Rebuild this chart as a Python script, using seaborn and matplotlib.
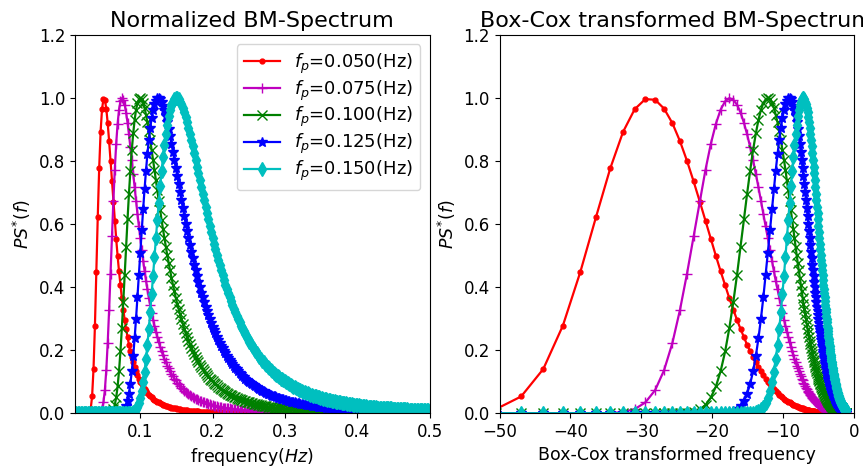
import matplotlib
matplotlib.use("Agg")
import matplotlib.pyplot as plt
import seaborn as sns

# frequency grid (Hz)
freq = [
    0.01000, 0.01196, 0.01392, 0.01588, 0.01784, 0.01980, 0.02176, 0.02372, 0.02568, 0.02764,
    0.02960, 0.03156, 0.03352, 0.03548, 0.03744, 0.03940, 0.04136, 0.04332, 0.04528, 0.04724,
    0.04920, 0.05116, 0.05312, 0.05508, 0.05704, 0.05900, 0.06096, 0.06292, 0.06488, 0.06684,
    0.06880, 0.07076, 0.07272, 0.07468, 0.07664, 0.07860, 0.08056, 0.08252, 0.08448, 0.08644,
    0.08840, 0.09036, 0.09232, 0.09428, 0.09624, 0.09820, 0.10016, 0.10212, 0.10408, 0.10604,
    0.10800, 0.10996, 0.11192, 0.11388, 0.11584, 0.11780, 0.11976, 0.12172, 0.12368, 0.12564,
    0.12760, 0.12956, 0.13152, 0.13348, 0.13544, 0.13740, 0.13936, 0.14132, 0.14328, 0.14524,
    0.14720, 0.14916, 0.15112, 0.15308, 0.15504, 0.15700, 0.15896, 0.16092, 0.16288, 0.16484,
    0.16680, 0.16876, 0.17072, 0.17268, 0.17464, 0.17660, 0.17856, 0.18052, 0.18248, 0.18444,
    0.18640, 0.18836, 0.19032, 0.19228, 0.19424, 0.19620, 0.19816, 0.20012, 0.20208, 0.20404,
    0.20600, 0.20796, 0.20992, 0.21188, 0.21384, 0.21580, 0.21776, 0.21972, 0.22168, 0.22364,
    0.22560, 0.22756, 0.22952, 0.23148, 0.23344, 0.23540, 0.23736, 0.23932, 0.24128, 0.24324,
    0.24520, 0.24716, 0.24912, 0.25108, 0.25304, 0.25500, 0.25696, 0.25892, 0.26088, 0.26284,
    0.26480, 0.26676, 0.26872, 0.27068, 0.27264, 0.27460, 0.27656, 0.27852, 0.28048, 0.28244,
    0.28440, 0.28636, 0.28832, 0.29028, 0.29224, 0.29420, 0.29616, 0.29812, 0.30008, 0.30204,
    0.30400, 0.30596, 0.30792, 0.30988, 0.31184, 0.31380, 0.31576, 0.31772, 0.31968, 0.32164,
    0.32360, 0.32556, 0.32752, 0.32948, 0.33144, 0.33340, 0.33536, 0.33732, 0.33928, 0.34124,
    0.34320, 0.34516, 0.34712, 0.34908, 0.35104, 0.35300, 0.35496, 0.35692, 0.35888, 0.36084,
    0.36280, 0.36476, 0.36672, 0.36868, 0.37064, 0.37260, 0.37456, 0.37652, 0.37848, 0.38044,
    0.38240, 0.38436, 0.38632, 0.38828, 0.39024, 0.39220, 0.39416, 0.39612, 0.39808, 0.40004,
    0.40200, 0.40396, 0.40592, 0.40788, 0.40984, 0.41180, 0.41376, 0.41572, 0.41768, 0.41964,
    0.42160, 0.42356, 0.42552, 0.42748, 0.42944, 0.43140, 0.43336, 0.43532, 0.43728, 0.43924,
    0.44120, 0.44316, 0.44512, 0.44708, 0.44904, 0.45100, 0.45296, 0.45492, 0.45688, 0.45884,
    0.46080, 0.46276, 0.46472, 0.46668, 0.46864, 0.47060, 0.47256, 0.47452, 0.47648, 0.47844,
    0.48040, 0.48236, 0.48432, 0.48628, 0.48824, 0.49020, 0.49216, 0.49412, 0.49608, 0.49804,
    0.50000,
]

# Box-Cox transformed frequency (same points as freq)
bc_freq = [
    -200.7, -162.1, -135.6, -115.4, -100.4, -88.58, -79.08, -71.28, -64.78, -59.28,
    -54.57, -50.50, -46.95, -43.83, -41.06, -38.59, -36.37, -34.38, -32.57, -30.93,
    -29.43, -28.05, -26.79, -25.62, -24.55, -23.55, -22.62, -21.75, -20.94, -20.18,
    -19.47, -18.80, -18.17, -17.58, -17.02, -16.49, -15.99, -15.52, -15.07, -14.64,
    -14.23, -13.84, -13.47, -13.12, -12.78, -12.46, -12.15, -11.85, -11.57, -11.30,
    -11.04, -10.78, -10.54, -10.31, -10.09, -9.87, -9.66, -9.46, -9.27, -9.08,
    -8.90, -8.72, -8.55, -8.39, -8.23, -8.08, -7.93, -7.78, -7.64, -7.51,
    -7.38, -7.25, -7.12, -7.00, -6.88, -6.77, -6.66, -6.55, -6.44, -6.34,
    -6.24, -6.14, -6.05, -5.95, -5.86, -5.77, -5.69, -5.61, -5.52, -5.44,
    -5.36, -5.29, -5.21, -5.14, -5.07, -5.00, -4.93, -4.86, -4.79, -4.73,
    -4.67, -4.61, -4.55, -4.49, -4.43, -4.37, -4.32, -4.26, -4.21, -4.15,
    -4.10, -4.05, -4.00, -3.95, -3.91, -3.86, -3.81, -3.77, -3.72, -3.68,
    -3.64, -3.59, -3.55, -3.51, -3.47, -3.43, -3.39, -3.36, -3.32, -3.28,
    -3.24, -3.21, -3.17, -3.14, -3.11, -3.07, -3.04, -3.01, -2.97, -2.94,
    -2.91, -2.88, -2.85, -2.82, -2.79, -2.76, -2.74, -2.71, -2.68, -2.65,
    -2.63, -2.60, -2.57, -2.55, -2.52, -2.50, -2.47, -2.45, -2.42, -2.40,
    -2.38, -2.35, -2.33, -2.31, -2.29, -2.27, -2.24, -2.22, -2.20, -2.18,
    -2.16, -2.14, -2.12, -2.10, -2.08, -2.06, -2.04, -2.02, -2.00, -1.99,
    -1.97, -1.95, -1.93, -1.91, -1.90, -1.88, -1.86, -1.85, -1.83, -1.81,
    -1.80, -1.78, -1.77, -1.75, -1.73, -1.72, -1.70, -1.69, -1.67, -1.66,
    -1.645, -1.631, -1.617, -1.603, -1.589, -1.575, -1.561, -1.548, -1.535, -1.521,
    -1.508, -1.495, -1.483, -1.470, -1.458, -1.445, -1.433, -1.421, -1.409, -1.397,
    -1.385, -1.373, -1.361, -1.350, -1.339, -1.327, -1.316, -1.305, -1.294, -1.283,
    -1.273, -1.262, -1.251, -1.241, -1.231, -1.220, -1.210, -1.200, -1.190, -1.180,
    -1.170, -1.161, -1.151, -1.142, -1.132, -1.123, -1.113, -1.104, -1.095, -1.086,
    -1.077,
]

# normalized spectra PS*(f), fp = 0.050 Hz
ps_050 = [
    0, 0, 0, 0, 0, 0, 0, 0, 0, 0,
    0.002, 0.013, 0.053, 0.140, 0.278, 0.449, 0.624, 0.777, 0.893, 0.965,
    0.997, 0.995, 0.967, 0.921, 0.864, 0.801, 0.736, 0.672, 0.611, 0.553,
    0.499, 0.450, 0.406, 0.365, 0.329, 0.296, 0.267, 0.241, 0.217, 0.196,
    0.178, 0.161, 0.146, 0.133, 0.121, 0.110, 0.100, 0.092, 0.084, 0.077,
    0.070, 0.064, 0.059, 0.054, 0.050, 0.046, 0.042, 0.039, 0.036, 0.034,
    0.031, 0.029, 0.027, 0.025, 0.023, 0.022, 0.020, 0.019, 0.018, 0.017,
    0.016, 0.015, 0.014, 0.013, 0.012, 0.011, 0.011, 0.010, 0.010, 0.009,
    0.008, 0.008, 0.007, 0.007, 0.007, 0.006, 0.006, 0.006, 0.005, 0.005,
    0.005, 0.005, 0.004, 0.004, 0.004, 0.004, 0.004, 0.003, 0.003, 0.003,
    0.003, 0.003, 0.003, 0.003, 0.002, 0.002, 0.002, 0.002, 0.002, 0.002,
    0.002, 0.002, 0.002, 0.002, 0.002, 0.002, 0.001, 0.001, 0.001, 0.001,
    0.001, 0.001, 0.001, 0.001, 0.001, 0.001, 0.001, 0.001, 0.001, 0.001,
    0.001, 0.001, 0.001, 0.001, 0.001, 0.001, 0.001, 0.001, 0.001, 0.001,
    0.001, 0.001, 0.001, 0.001, 0.001, 0, 0, 0, 0, 0,
    0, 0, 0, 0, 0, 0, 0, 0, 0, 0,
    0, 0, 0, 0, 0, 0, 0, 0, 0, 0,
    0, 0, 0, 0, 0, 0, 0, 0, 0, 0,
    0, 0, 0, 0, 0, 0, 0, 0, 0, 0,
    0, 0, 0, 0, 0, 0, 0, 0, 0, 0,
    0, 0, 0, 0, 0, 0, 0, 0, 0, 0,
    0, 0, 0, 0, 0, 0, 0, 0, 0, 0,
    0, 0, 0, 0, 0, 0, 0, 0, 0, 0,
    0, 0, 0, 0, 0, 0, 0, 0, 0, 0,
    0, 0, 0, 0, 0, 0, 0, 0, 0, 0,
    0,
]

# fp = 0.075 Hz
ps_075 = [
    0, 0, 0, 0, 0, 0, 0, 0, 0, 0,
    0, 0, 0, 0, 0, 0, 0, 0, 0.004, 0.013,
    0.034, 0.073, 0.136, 0.222, 0.327, 0.443, 0.561, 0.673, 0.773, 0.856,
    0.919, 0.964, 0.990, 1.000, 0.995, 0.979, 0.954, 0.922, 0.885, 0.845,
    0.803, 0.760, 0.717, 0.674, 0.633, 0.593, 0.555, 0.518, 0.484, 0.452,
    0.421, 0.393, 0.366, 0.342, 0.319, 0.297, 0.277, 0.259, 0.242, 0.226,
    0.211, 0.197, 0.184, 0.172, 0.162, 0.151, 0.142, 0.133, 0.125, 0.117,
    0.110, 0.104, 0.097, 0.092, 0.086, 0.081, 0.077, 0.072, 0.068, 0.064,
    0.061, 0.058, 0.054, 0.052, 0.049, 0.046, 0.044, 0.042, 0.039, 0.038,
    0.036, 0.034, 0.032, 0.031, 0.029, 0.028, 0.026, 0.025, 0.024, 0.023,
    0.022, 0.021, 0.020, 0.019, 0.018, 0.017, 0.017, 0.016, 0.015, 0.015,
    0.014, 0.013, 0.013, 0.012, 0.012, 0.011, 0.011, 0.010, 0.010, 0.010,
    0.009, 0.009, 0.009, 0.008, 0.008, 0.008, 0.007, 0.007, 0.007, 0.007,
    0.006, 0.006, 0.006, 0.006, 0.005, 0.005, 0.005, 0.005, 0.005, 0.005,
    0.004, 0.004, 0.004, 0.004, 0.004, 0.004, 0.004, 0.004, 0.003, 0.003,
    0.003, 0.003, 0.003, 0.003, 0.003, 0.003, 0.003, 0.003, 0.002, 0.002,
    0.002, 0.002, 0.002, 0.002, 0.002, 0.002, 0.002, 0.002, 0.002, 0.002,
    0.002, 0.002, 0.002, 0.002, 0.002, 0.002, 0.001, 0.001, 0.001, 0.001,
    0.001, 0.001, 0.001, 0.001, 0.001, 0.001, 0.001, 0.001, 0.001, 0.001,
    0.001, 0.001, 0.001, 0.001, 0.001, 0.001, 0.001, 0.001, 0.001, 0.001,
    0.001, 0.001, 0.001, 0.001, 0.001, 0.001, 0.001, 0.001, 0.001, 0.001,
    0.001, 0.001, 0.001, 0.001, 0.001, 0.001, 0.001, 0.001, 0.001, 0.001,
    0, 0, 0, 0, 0, 0, 0, 0, 0, 0,
    0, 0, 0, 0, 0, 0, 0, 0, 0, 0,
    0, 0, 0, 0, 0, 0, 0, 0, 0, 0,
    0,
]

# fp = 0.100 Hz
ps_100 = [
    0, 0, 0, 0, 0, 0, 0, 0, 0, 0,
    0, 0, 0, 0, 0, 0, 0, 0, 0, 0,
    0, 0, 0, 0, 0, 0.002, 0.005, 0.012, 0.026, 0.050,
    0.085, 0.134, 0.196, 0.270, 0.352, 0.440, 0.529, 0.615, 0.697, 0.770,
    0.835, 0.888, 0.931, 0.963, 0.984, 0.996, 1.000, 0.996, 0.985, 0.969,
    0.948, 0.923, 0.896, 0.867, 0.836, 0.804, 0.772, 0.739, 0.707, 0.675,
    0.644, 0.614, 0.584, 0.556, 0.528, 0.502, 0.477, 0.453, 0.430, 0.408,
    0.387, 0.367, 0.348, 0.331, 0.314, 0.298, 0.283, 0.268, 0.255, 0.242,
    0.230, 0.219, 0.208, 0.197, 0.188, 0.179, 0.170, 0.162, 0.154, 0.147,
    0.140, 0.133, 0.127, 0.121, 0.116, 0.110, 0.105, 0.101, 0.096, 0.092,
    0.088, 0.084, 0.080, 0.077, 0.074, 0.070, 0.067, 0.065, 0.062, 0.059,
    0.057, 0.055, 0.052, 0.050, 0.048, 0.046, 0.045, 0.043, 0.041, 0.040,
    0.038, 0.037, 0.035, 0.034, 0.033, 0.031, 0.030, 0.029, 0.028, 0.027,
    0.026, 0.025, 0.024, 0.023, 0.023, 0.022, 0.021, 0.020, 0.020, 0.019,
    0.018, 0.018, 0.017, 0.017, 0.016, 0.016, 0.015, 0.015, 0.014, 0.014,
    0.013, 0.013, 0.013, 0.012, 0.012, 0.011, 0.011, 0.011, 0.010, 0.010,
    0.010, 0.010, 0.009, 0.009, 0.009, 0.008, 0.008, 0.008, 0.008, 0.007,
    0.007, 0.007, 0.007, 0.007, 0.007, 0.006, 0.006, 0.006, 0.006, 0.006,
    0.006, 0.005, 0.005, 0.005, 0.005, 0.005, 0.005, 0.005, 0.004, 0.004,
    0.004, 0.004, 0.004, 0.004, 0.004, 0.004, 0.004, 0.004, 0.003, 0.003,
    0.003, 0.003, 0.003, 0.003, 0.003, 0.003, 0.003, 0.003, 0.003, 0.003,
    0.003, 0.003, 0.003, 0.002, 0.002, 0.002, 0.002, 0.002, 0.002, 0.002,
    0.002, 0.002, 0.002, 0.002, 0.002, 0.002, 0.002, 0.002, 0.002, 0.002,
    0.002, 0.002, 0.002, 0.002, 0.002, 0.002, 0.001, 0.001, 0.001, 0.001,
    0.001, 0.001, 0.001, 0.001, 0.001, 0.001, 0.001, 0.001, 0.001, 0.001,
    0.001,
]

# fp = 0.125 Hz
ps_125 = [
    0, 0, 0, 0, 0, 0, 0, 0, 0, 0,
    0, 0, 0, 0, 0, 0, 0, 0, 0, 0,
    0, 0, 0, 0, 0, 0, 0, 0, 0, 0,
    0, 0, 0.001, 0.003, 0.006, 0.012, 0.022, 0.039, 0.062, 0.093,
    0.133, 0.181, 0.238, 0.300, 0.368, 0.438, 0.509, 0.580, 0.647, 0.711,
    0.769, 0.822, 0.867, 0.906, 0.937, 0.962, 0.981, 0.992, 0.999, 1.000,
    0.996, 0.988, 0.976, 0.961, 0.944, 0.924, 0.902, 0.879, 0.855, 0.830,
    0.805, 0.779, 0.753, 0.727, 0.701, 0.676, 0.651, 0.626, 0.602, 0.579,
    0.556, 0.534, 0.513, 0.492, 0.472, 0.453, 0.435, 0.417, 0.400, 0.383,
    0.368, 0.352, 0.338, 0.324, 0.311, 0.298, 0.286, 0.274, 0.263, 0.253,
    0.242, 0.233, 0.223, 0.214, 0.206, 0.198, 0.190, 0.182, 0.175, 0.168,
    0.162, 0.156, 0.150, 0.144, 0.139, 0.133, 0.128, 0.123, 0.119, 0.115,
    0.110, 0.106, 0.102, 0.099, 0.095, 0.092, 0.089, 0.086, 0.082, 0.080,
    0.077, 0.074, 0.072, 0.069, 0.067, 0.065, 0.062, 0.060, 0.058, 0.056,
    0.055, 0.053, 0.051, 0.049, 0.048, 0.046, 0.045, 0.044, 0.042, 0.041,
    0.040, 0.038, 0.037, 0.036, 0.035, 0.034, 0.033, 0.032, 0.031, 0.030,
    0.029, 0.028, 0.028, 0.027, 0.026, 0.025, 0.025, 0.024, 0.023, 0.023,
    0.022, 0.021, 0.021, 0.020, 0.020, 0.019, 0.019, 0.018, 0.018, 0.017,
    0.017, 0.016, 0.016, 0.015, 0.015, 0.015, 0.014, 0.014, 0.014, 0.013,
    0.013, 0.013, 0.012, 0.012, 0.012, 0.011, 0.011, 0.011, 0.011, 0.010,
    0.010, 0.010, 0.010, 0.009, 0.009, 0.009, 0.009, 0.009, 0.008, 0.008,
    0.008, 0.008, 0.008, 0.007, 0.007, 0.007, 0.007, 0.007, 0.007, 0.007,
    0.006, 0.006, 0.006, 0.006, 0.006, 0.006, 0.006, 0.005, 0.005, 0.005,
    0.005, 0.005, 0.005, 0.005, 0.005, 0.005, 0.004, 0.004, 0.004, 0.004,
    0.004, 0.004, 0.004, 0.004, 0.004, 0.004, 0.004, 0.004, 0.004, 0.003,
    0.003,
]

# fp = 0.150 Hz
ps_150 = [
    0, 0, 0, 0, 0, 0, 0, 0, 0, 0,
    0, 0, 0, 0, 0, 0, 0, 0, 0, 0,
    0, 0, 0, 0, 0, 0, 0, 0, 0, 0,
    0, 0, 0, 0, 0, 0, 0, 0, 0, 0.001,
    0.002, 0.003, 0.006, 0.012, 0.020, 0.032, 0.049, 0.071, 0.098, 0.132,
    0.172, 0.217, 0.267, 0.321, 0.378, 0.437, 0.496, 0.555, 0.613, 0.668,
    0.720, 0.768, 0.812, 0.852, 0.887, 0.916, 0.942, 0.962, 0.978, 0.989,
    0.996, 1.000, 0.999, 0.996, 0.989, 0.980, 0.969, 0.956, 0.941, 0.924,
    0.906, 0.887, 0.868, 0.847, 0.826, 0.805, 0.783, 0.762, 0.740, 0.719,
    0.697, 0.676, 0.655, 0.635, 0.615, 0.595, 0.575, 0.557, 0.538, 0.520,
    0.503, 0.486, 0.469, 0.453, 0.438, 0.423, 0.408, 0.394, 0.381, 0.368,
    0.355, 0.343, 0.331, 0.320, 0.309, 0.298, 0.288, 0.278, 0.269, 0.260,
    0.251, 0.242, 0.234, 0.226, 0.219, 0.212, 0.205, 0.198, 0.191, 0.185,
    0.179, 0.173, 0.167, 0.162, 0.157, 0.152, 0.147, 0.142, 0.138, 0.133,
    0.129, 0.125, 0.121, 0.117, 0.114, 0.110, 0.107, 0.104, 0.101, 0.098,
    0.095, 0.092, 0.089, 0.087, 0.084, 0.082, 0.079, 0.077, 0.075, 0.073,
    0.071, 0.068, 0.067, 0.065, 0.063, 0.061, 0.059, 0.058, 0.056, 0.055,
    0.053, 0.052, 0.050, 0.049, 0.048, 0.046, 0.045, 0.044, 0.043, 0.042,
    0.041, 0.040, 0.039, 0.038, 0.037, 0.036, 0.035, 0.034, 0.033, 0.032,
    0.031, 0.031, 0.030, 0.029, 0.028, 0.028, 0.027, 0.027, 0.026, 0.025,
    0.025, 0.024, 0.023, 0.023, 0.022, 0.022, 0.021, 0.021, 0.020, 0.020,
    0.020, 0.019, 0.019, 0.018, 0.018, 0.017, 0.017, 0.017, 0.016, 0.016,
    0.016, 0.015, 0.015, 0.015, 0.014, 0.014, 0.014, 0.014, 0.013, 0.013,
    0.013, 0.012, 0.012, 0.012, 0.012, 0.011, 0.011, 0.011, 0.011, 0.010,
    0.010, 0.010, 0.010, 0.010, 0.010, 0.009, 0.009, 0.009, 0.009, 0.009,
    0.008,
]

series = [ps_050, ps_075, ps_100, ps_125, ps_150]
labels = ["$f_p$=0.050(Hz)", "$f_p$=0.075(Hz)", "$f_p$=0.100(Hz)",
          "$f_p$=0.125(Hz)", "$f_p$=0.150(Hz)"]
colors = ["r", "m", "g", "b", "c"]
markers = [".", "+", "x", "*", "d"]

plt.rcParams["font.family"] = ["DejaVu Sans"]
plt.rcParams["mathtext.fontset"] = "dejavusans"

fig, (ax1, ax2) = plt.subplots(1, 2, figsize=(8.63, 4.69), dpi=100)
fig.subplots_adjust(left=0.087, right=0.9895, bottom=0.119, top=0.925, wspace=0.1975)

for ys, c, m, lab in zip(series, colors, markers, labels):
    style = dict(color=c, marker=m, markersize=7, markeredgecolor=c,
                 markerfacecolor=c, markeredgewidth=1.0, linewidth=1.6)
    sns.lineplot(x=freq, y=ys, ax=ax1, label=lab, sort=False,
                 estimator=None, **style)
    sns.lineplot(x=bc_freq, y=ys, ax=ax2, sort=False, estimator=None,
                 legend=False, **style)

ax1.set_xlim(0.01, 0.5)
ax1.set_ylim(0, 1.2)
ax2.set_xlim(-50, 0)
ax2.set_ylim(0, 1.2)

ax1.set_title("Normalized BM-Spectrum", fontsize=16)
ax2.set_title("Box-Cox transformed BM-Spectrum", fontsize=16)
ax1.set_xlabel("frequency($Hz$)", fontsize=12.5)
ax2.set_xlabel("Box-Cox transformed frequency", fontsize=12.5)
ax1.set_ylabel("$PS^{*}(f)$", fontsize=12.5)
ax2.set_ylabel("$PS^{*}(f)$", fontsize=12.5)
for ax in (ax1, ax2):
    ax.tick_params(labelsize=12)
    for sp in ax.spines.values():
        sp.set_visible(True)
        sp.set_color("black")

ax1.legend(loc="upper right", fontsize=13, labelspacing=0.15,
           handlelength=2.0, borderaxespad=0.5)

fig.savefig("out.png", dpi=100)
